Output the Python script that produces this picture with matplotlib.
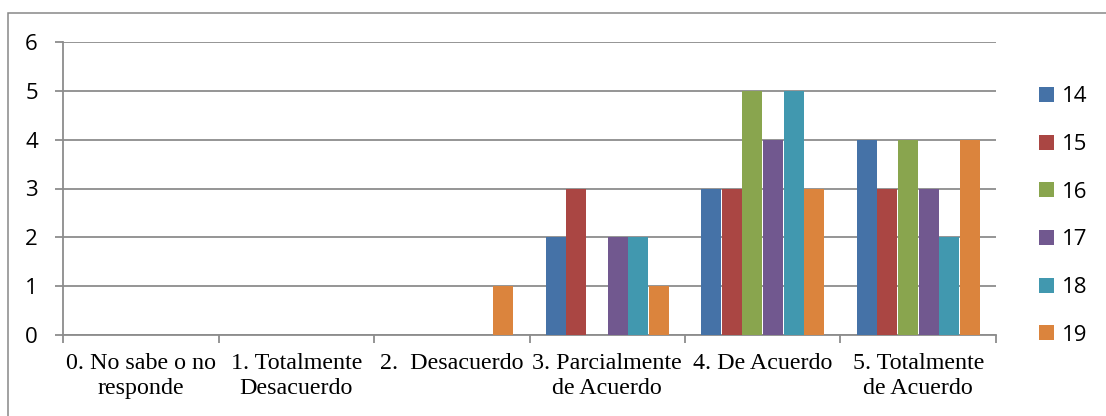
import numpy as np
import matplotlib
matplotlib.use('Agg')
import matplotlib.pyplot as plt
from matplotlib.patches import Rectangle, Patch

categories = ['0. No sabe o no\nresponde', '1. Totalmente\nDesacuerdo', '2.  Desacuerdo',
              '3. Parcialmente\nde Acuerdo', '4. De Acuerdo', '5. Totalmente\nde Acuerdo']
series_names = ['14', '15', '16', '17', '18', '19']
s14 = [0, 0, 0, 2, 3, 4]
s15 = [0, 0, 0, 3, 3, 3]
s16 = [0, 0, 0, 0, 5, 4]
s17 = [0, 0, 0, 2, 4, 3]
s18 = [0, 0, 0, 2, 5, 2]
s19 = [0, 0, 1, 1, 3, 4]
yticks = [0, 1, 2, 3, 4, 5, 6]

colors = ['#4572A7', '#AA4643', '#89A54E', '#71588F', '#4198AF', '#DB843D']
grid_c = '#8c8c8c'
sans = ['Open Sans', 'DejaVu Sans']
serif = ['Liberation Serif', 'DejaVu Serif']

W, H = 1106, 416
fig = plt.figure(figsize=(W / 100, H / 100), dpi=100)
ax = fig.add_axes([63 / W, 1 - 335 / H, (996 - 63) / W, (335 - 42) / H])

x = np.arange(len(categories))
w = 0.1325
for i, (vals, name) in enumerate(zip([s14, s15, s16, s17, s18, s19], series_names)):
    ax.bar(x + (i - 2.5) * w, vals, w * 0.97, color=colors[i], linewidth=0,
           zorder=3, label=name)

ax.set_xlim(-0.5, len(categories) - 0.5)
ax.set_ylim(0, 6)
ax.set_yticks(yticks)
ax.set_yticklabels([str(v) for v in yticks], fontfamily=sans, fontsize=16)
ax.yaxis.grid(True, color=grid_c, linewidth=1.3, zorder=0)
ax.set_axisbelow(True)

ax.set_xticks(np.arange(len(categories) + 1) - 0.5)
ax.set_xticklabels([])
ax.set_xticks(x, minor=True)
ax.set_xticklabels(categories, minor=True, fontfamily=serif, fontsize=17.3,
                   linespacing=1.25)
ax.tick_params(axis='x', which='minor', length=0, pad=13)
ax.tick_params(axis='x', which='major', length=6, width=1.3, color=grid_c)
ax.tick_params(axis='y', length=6, width=1.3, color=grid_c, pad=12)

for side in ['top', 'right']:
    ax.spines[side].set_visible(False)
for side in ['left', 'bottom']:
    ax.spines[side].set_color(grid_c)
    ax.spines[side].set_linewidth(1.3)

handles = [Patch(facecolor=c, edgecolor='none') for c in colors]
fig.legend(handles, series_names, loc='center left', bbox_to_anchor=(1039 / W, 1 - 216 / H),
           frameon=False, prop={'family': sans, 'size': 16}, handlelength=0.66,
           handleheight=0.66, handletextpad=0.35, labelspacing=1.2,
           borderpad=0, borderaxespad=0)

# outer chart frame
fig.patches.append(Rectangle((8 / W, -0.1), 1.2, 1.1 - 13 / H, transform=fig.transFigure,
                             fill=False, edgecolor='#878787', linewidth=1.1))

fig.savefig('out.png', dpi=100)
